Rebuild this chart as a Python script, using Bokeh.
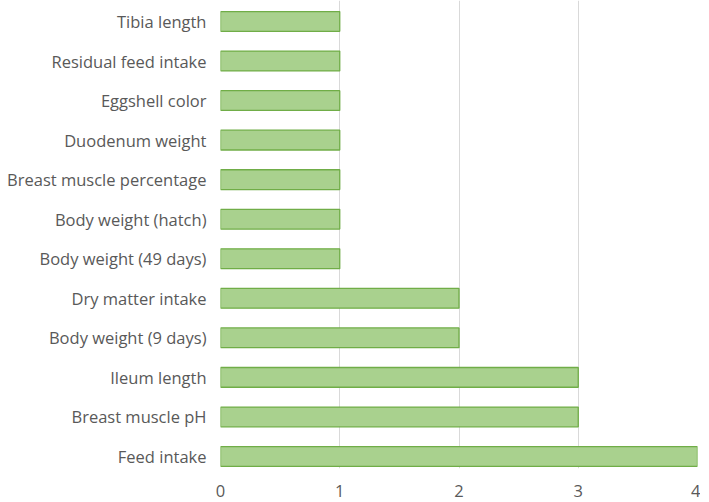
from bokeh.plotting import figure
from bokeh.models import FixedTicker, ColumnDataSource
from bokeh.embed import file_html
from bokeh.resources import INLINE

categories = ["Feed intake", "Breast muscle pH", "Ileum length", "Body weight (9 days)",
              "Dry matter intake", "Body weight (49 days)", "Body weight (hatch)",
              "Breast muscle percentage", "Duodenum weight", "Eggshell color",
              "Residual feed intake", "Tibia length"]
values = [4, 3, 3, 2, 2, 1, 1, 1, 1, 1, 1, 1]
x_ticks = [0, 1, 2, 3, 4]

ypos = list(range(len(categories)))
src = ColumnDataSource(dict(y=ypos, v=values, cat=categories))

p = figure(width=700, height=500, output_backend="svg", toolbar_location=None,
           x_range=(0, 4), y_range=(-0.304, len(categories) - 1 + 0.53),
           min_border_left=220, min_border_right=3, min_border_top=0, min_border_bottom=32)
p.outline_line_color = None
p.background_fill_color = "white"

p.hbar(y="y", right="v", left=0, height=0.5, source=src,
       fill_color="#a9d18e", line_color="#70ad47", line_width=1.3)

label_font = "Open Sans"
text_color = "#595959"

p.xaxis.ticker = FixedTicker(ticks=x_ticks)
p.xaxis.axis_line_color = None
p.xaxis.major_tick_line_color = None
p.xaxis.minor_tick_line_color = None
p.xaxis.major_label_text_font = label_font
p.xaxis.major_label_text_font_size = "16.5px"
p.xaxis.major_label_text_color = text_color
p.xaxis.major_label_standoff = 10

p.yaxis.ticker = FixedTicker(ticks=ypos)
p.yaxis.major_label_overrides = {i: c for i, c in zip(ypos, categories)}
p.yaxis.axis_line_color = None
p.yaxis.major_tick_line_color = None
p.yaxis.minor_tick_line_color = None
p.yaxis.major_label_text_font = label_font
p.yaxis.major_label_text_font_size = "16.5px"
p.yaxis.major_label_text_color = text_color
p.yaxis.major_label_standoff = 8

p.xgrid.grid_line_color = "#d9d9d9"
p.xgrid.grid_line_width = 1
p.ygrid.grid_line_color = None

open("out.html", "w").write(file_html(p, INLINE))
